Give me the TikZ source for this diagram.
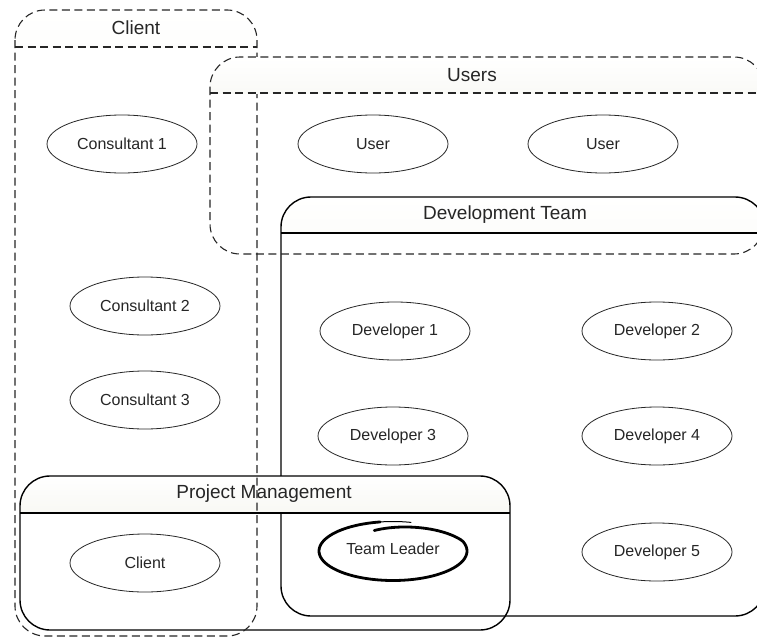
\documentclass[tikz,border=0pt]{standalone}
\usepackage{fontspec}
\setmainfont{Liberation Sans}
\usetikzlibrary{shapes.geometric}

\definecolor{hdrfill}{RGB}{226,226,208}
\definecolor{ink}{RGB}{38,38,38}

\tikzset{
  actor/.style={ellipse, draw=ink, line width=0.8pt, fill=white,
    minimum width=150pt, minimum height=58pt, inner sep=0pt,
    font=\fontsize{16}{19}\selectfont, text=ink},
  plainlabel/.style={inner sep=0pt, font=\fontsize{16}{19}\selectfont, text=ink},
  grouptitle/.style={inner sep=0pt, font=\fontsize{19}{22}\selectfont, text=ink},
  hdrshade/.style={top color=white, bottom color=hdrfill, rounded corners=30pt},
  dashedbox/.style={draw=ink, line width=1.1pt, dash pattern=on 8pt off 4.5pt, rounded corners=30pt},
  dashedrule/.style={draw=ink, line width=1.1pt, dash pattern=on 8pt off 4.5pt},
  solidbox/.style={draw=black, line width=1.4pt, rounded corners=30pt},
  solidrule/.style={draw=black, line width=1.4pt},
}

% shaded header band of a group: left, top, right, header line, bottom
\newcommand\grouphead[5]{%
  \begin{scope}
    \clip (#1,#2) rectangle (#3,#4);
    \shade[hdrshade] (#1,#2) rectangle (#3,#5);
  \end{scope}}

\begin{document}
\begin{tikzpicture}[x=1pt, y=-1pt]
  \useasboundingbox (0,0) rectangle (757,637);
  \fill[white] (0,0) rectangle (757,637);

  % Development Team
  \grouphead{281}{197}{765}{233}{616}
  \draw[solidbox] (281,197) rectangle (765,616);
  \draw[solidrule] (281,233) -- (765,233);
  \node[grouptitle] (devteam) at (505,215) {Development Team};

  % Project Management
  \grouphead{20}{476}{510}{513}{630}
  \draw[solidbox] (20,476) rectangle (510,630);
  \draw[solidrule] (20,513) -- (510,513);
  \node[grouptitle] (projmgmt) at (264,494) {Project Management};

  % Client
  \grouphead{15}{10}{257}{47}{636}
  \draw[dashedbox] (15,10) rectangle (257,636);
  \draw[dashedrule] (15,47) -- (257,47);
  \node[grouptitle] (client) at (136,28) {Client};

  % Users
  \grouphead{210}{57}{764}{93}{254}
  \draw[dashedbox] (210,57) rectangle (764,254);
  \draw[dashedrule] (210,93) -- (764,93);
  \node[grouptitle] (users) at (472,75) {Users};

  % members
  \node[actor] (cons1) at (122,144) {Consultant 1};
  \node[actor] (user1) at (373,144) {User};
  \node[actor] (user2) at (603,144) {User};
  \node[actor] (cons2) at (145,306) {Consultant 2};
  \node[actor] (cons3) at (145,400) {Consultant 3};
  \node[actor] (dev1) at (395,331) {Developer 1};
  \node[actor] (dev2) at (657,331) {Developer 2};
  \node[actor] (dev3) at (393,436) {Developer 3};
  \node[actor] (dev4) at (657,436) {Developer 4};
  \node[actor] (clientrole) at (145,563) {Client};
  \node[actor] (dev5) at (657,552) {Developer 5};

  % hand-drawn ring around the team leader
  \draw[black, line width=1pt, line cap=round]
    plot[smooth, samples=12, domain=76:104, variable=\t]
    ({393+74*cos(\t)}, {551-29.5*sin(\t)});
  \draw[black, line width=2.8pt, line cap=round]
    plot[smooth, samples=90, domain=100:470, variable=\t]
    ({393+74*cos(\t)*(1-0.26*max(0,\t-380)/90)},
     {551-29.5*sin(\t)*(1-0.26*max(0,\t-380)/90)});
  \node[plainlabel] (leader) at (393,549) {Team Leader};
\end{tikzpicture}
\end{document}
